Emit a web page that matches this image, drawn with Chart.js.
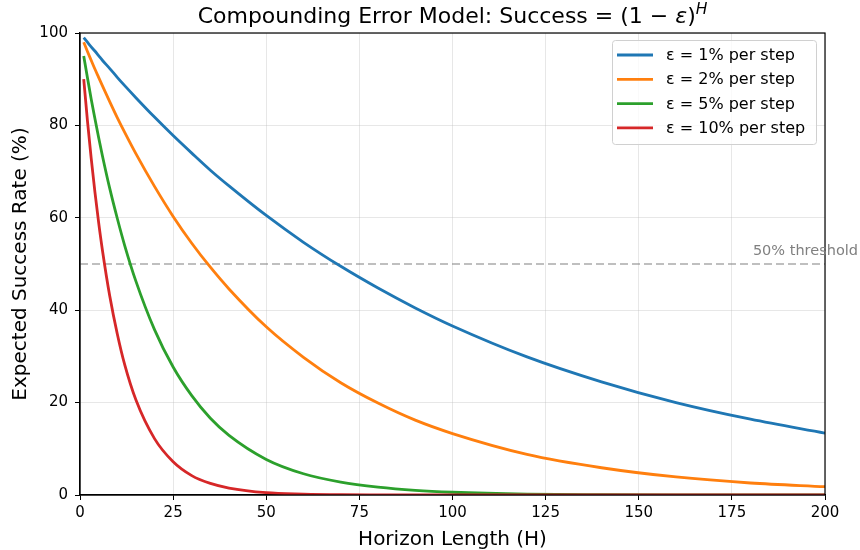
<!DOCTYPE html>
<html>
<head>
<meta charset="utf-8">
<script src="https://cdn.jsdelivr.net/npm/chart.js@4.4.1/dist/chart.umd.min.js"></script>
<style>
  html, body { margin: 0; padding: 0; background: #fff; }
  #wrap { width: 860px; height: 550px; position: relative; }
</style>
</head>
<body>
<div id="wrap"><canvas id="chart" width="860" height="550"></canvas></div>
<script>
// ---- Data ----
const horizons = [1, 2, 3, 4, 5, 6, 8, 10, 12, 15, 20, 25, 30, 35, 40, 50, 60, 70, 80, 90, 100, 120, 140, 160, 180, 200];
const eps1  = [99.0, 98.0, 97.0, 96.1, 95.1, 94.1, 92.3, 90.4, 88.6, 86.0, 81.8, 77.8, 74.0, 70.3, 66.9, 60.5, 54.7, 49.5, 44.8, 40.5, 36.6, 29.9, 24.5, 20.0, 16.4, 13.4];
const eps2  = [98.0, 96.0, 94.1, 92.2, 90.4, 88.6, 85.1, 81.7, 78.5, 73.9, 66.8, 60.3, 54.5, 49.3, 44.6, 36.4, 29.8, 24.3, 19.9, 16.2, 13.3, 8.8, 5.9, 3.9, 2.6, 1.8];
const eps5  = [95.0, 90.3, 85.7, 81.5, 77.4, 73.5, 66.3, 59.9, 54.0, 46.3, 35.8, 27.7, 21.5, 16.6, 12.9, 7.7, 4.6, 2.8, 1.7, 1.0, 0.6, 0.2, 0.08, 0.03, 0.01, 0.0];
const eps10 = [90.0, 81.0, 72.9, 65.6, 59.0, 53.1, 43.0, 34.9, 28.2, 20.6, 12.2, 7.2, 4.2, 2.5, 1.5, 0.5, 0.2, 0.06, 0.02, 0.0, 0.0, 0.0, 0.0, 0.0, 0.0, 0.0];
const seriesLabels = ['ε = 1% per step', 'ε = 2% per step', 'ε = 5% per step', 'ε = 10% per step'];
const seriesColors = ['#1f77b4', '#ff7f0e', '#2ca02c', '#d62728'];
const xTicks = [0, 25, 50, 75, 100, 125, 150, 175, 200];
const yTicks = [0, 20, 40, 60, 80, 100];
const threshold = 50;

const FONT = "'DejaVu Sans', sans-serif";

// ---- Datasets ----
const allSeries = [eps1, eps2, eps5, eps10];
const datasets = allSeries.map((vals, i) => ({
  label: seriesLabels[i],
  data: vals.map((v, j) => ({ x: horizons[j], y: v })),
  borderColor: seriesColors[i],
  backgroundColor: seriesColors[i],
  borderWidth: 2.8,
  pointRadius: 0,
  cubicInterpolationMode: 'monotone',
  order: 4 - i,
}));

// ---- Decorations: title, axis titles, spines, threshold, legend ----
const decor = {
  id: 'decor',
  beforeDatasetsDraw(chart) {
    const { ctx, chartArea: a, scales } = chart;
    const y = scales.y.getPixelForValue(threshold);
    ctx.save();
    ctx.strokeStyle = 'rgba(128,128,128,0.5)';
    ctx.lineWidth = 2;
    ctx.setLineDash([8, 4]);
    ctx.beginPath();
    ctx.moveTo(a.left, y);
    ctx.lineTo(a.right, y);
    ctx.stroke();
    ctx.restore();
  },
  afterDraw(chart) {
    const { ctx, chartArea: a, scales } = chart;
    ctx.save();

    // spines
    ctx.strokeStyle = '#000';
    ctx.lineWidth = 1.2;
    ctx.strokeRect(a.left, a.top, a.right - a.left, a.bottom - a.top);

    // threshold label
    const ty = scales.y.getPixelForValue(threshold);
    ctx.fillStyle = '#808080';
    ctx.font = `14.5px ${FONT}`;
    ctx.textAlign = 'right';
    ctx.textBaseline = 'alphabetic';
    ctx.fillText('50% threshold', 858, ty - 9);

    // title with math part
    const cx = (a.left + a.right) / 2;
    const parts = [
      { t: 'Compounding Error Model: Success = (1 − ', f: `22px ${FONT}`, dy: 0 },
      { t: 'ε', f: `italic 22px ${FONT}`, dy: 0 },
      { t: ')', f: `22px ${FONT}`, dy: 0 },
      { t: 'H', f: `italic 15.5px ${FONT}`, dy: -9 },
    ];
    let total = 0;
    parts.forEach(p => { ctx.font = p.f; p.w = ctx.measureText(p.t).width; total += p.w; });
    let x = cx - total / 2;
    ctx.fillStyle = '#000';
    ctx.textAlign = 'left';
    parts.forEach(p => { ctx.font = p.f; ctx.fillText(p.t, x, 23 + p.dy); x += p.w; });

    // axis titles
    ctx.font = `20px ${FONT}`;
    ctx.textAlign = 'center';
    ctx.fillText('Horizon Length (H)', cx, 545);
    ctx.save();
    ctx.translate(26, (a.top + a.bottom) / 2);
    ctx.rotate(-Math.PI / 2);
    ctx.fillText('Expected Success Rate (%)', 0, 0);
    ctx.restore();

    // legend
    const lx = 612, ly = 40, lw = 204, lh = 104;
    ctx.fillStyle = 'rgba(255,255,255,0.8)';
    ctx.strokeStyle = '#d0d0d0';
    ctx.lineWidth = 1;
    ctx.beginPath();
    ctx.roundRect(lx + 0.5, ly + 0.5, lw, lh, 3);
    ctx.fill();
    ctx.stroke();
    ctx.font = `16px ${FONT}`;
    ctx.textBaseline = 'middle';
    ctx.textAlign = 'left';
    seriesLabels.forEach((lab, i) => {
      const ry = 55 + i * 24.3;
      ctx.strokeStyle = seriesColors[i];
      ctx.lineWidth = 2.8;
      ctx.beginPath();
      ctx.moveTo(617, ry);
      ctx.lineTo(653, ry);
      ctx.stroke();
      ctx.fillStyle = '#000';
      ctx.fillText(lab, 666, ry + 1);
    });

    ctx.restore();
  }
};

// ---- Chart ----
new Chart(document.getElementById('chart'), {
  type: 'line',
  data: { datasets },
  options: {
    responsive: false,
    animation: false,
    layout: { padding: { left: 0, right: 35, top: 33, bottom: 0 } },
    plugins: { legend: { display: false }, tooltip: { enabled: false } },
    scales: {
      x: {
        type: 'linear',
        min: 0, max: 200,
        afterFit: s => { s.height = 55; },
        afterBuildTicks: s => { s.ticks = xTicks.map(v => ({ value: v })); },
        grid: { color: 'rgba(176,176,176,0.3)', tickColor: '#000', tickLength: 5 },
        border: { color: '#000', width: 1.2 },
        ticks: { color: '#000', font: { family: FONT, size: 15 }, padding: 4, maxRotation: 0 },
      },
      y: {
        min: 0, max: 100,
        afterFit: s => { s.width = 80; },
        afterBuildTicks: s => { s.ticks = yTicks.map(v => ({ value: v })); },
        grid: { color: 'rgba(176,176,176,0.3)', tickColor: '#000', tickLength: 5 },
        border: { color: '#000', width: 1.2 },
        ticks: { color: '#000', font: { family: FONT, size: 15 }, padding: 7 },
      },
    },
  },
  plugins: [decor],
});
</script>
</body>
</html>
